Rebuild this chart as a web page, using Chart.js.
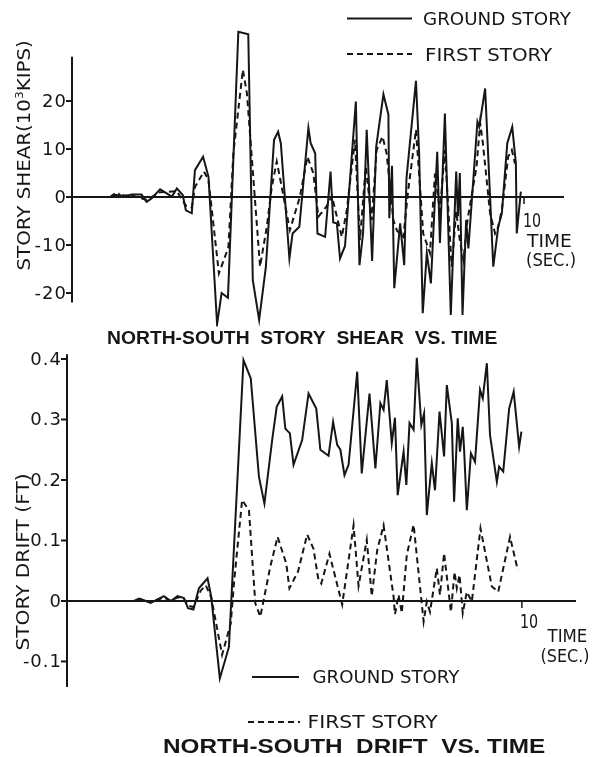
<!DOCTYPE html>
<html><head><meta charset="utf-8">
<script src="https://cdn.jsdelivr.net/npm/chart.js@4/dist/chart.umd.min.js"></script>
<style>
html,body{margin:0;padding:0;background:#fff;}
#wrap{position:relative;width:599px;height:757px;overflow:hidden;background:#fff;}
canvas{position:absolute;left:0;}
.t{position:absolute;white-space:nowrap;font-family:"DejaVu Sans",sans-serif;color:#161616;line-height:1;transform-origin:50% 50%;}
.b{font-family:"Liberation Sans",sans-serif;font-weight:bold;}
</style>
</head><body>
<div id="wrap">
<canvas id="shear" width="599" height="350" style="top:0"></canvas>
<canvas id="drift" width="599" height="407" style="top:350px"></canvas>
</div>
<script>
// ---------- DATA ----------
// Story shear (10^3 kips) vs time (sec)
const shearGroundTime = [0,0.84,0.93,0.99,1.04,1.10,1.32,1.54,1.65,1.76,1.95,2.21,2.32,2.45,2.52,2.65,2.72,2.90,3.02,3.21,3.31,3.45,3.68,3.90,4.00,4.14,4.29,4.47,4.56,4.62,4.81,4.88,5.03,5.23,5.28,5.38,5.43,5.60,5.72,5.78,5.86,5.93,6.04,6.28,6.36,6.44,6.52,6.64,6.73,6.89,7.00,7.02,7.08,7.13,7.26,7.35,7.40,7.61,7.68,7.76,7.85,7.94,8.08,8.14,8.25,8.38,8.50,8.54,8.58,8.64,8.72,8.77,8.97,9.01,9.14,9.32,9.43,9.51,9.63,9.74,9.82,9.84,9.93];
const shearGround = [0,0,0.6,0,0.6,0,0.5,0.5,-1,-0.3,1.6,0.1,1.8,0.4,-2.8,-3.4,5.6,8.4,4.2,-26.5,-20,-21,34.4,33.9,-17.3,-25.6,-14.5,11.9,13.6,11.2,-12.8,-7.6,-6.2,14.4,11.2,9.1,-7.6,-8.3,5.3,-5.3,-5.5,-12.8,-10.2,19.9,-14.2,-7.5,14,-13.3,10.5,21.4,17.2,-4.4,6.5,-19,-5.5,-14.2,3.9,24.2,9.1,-24.2,-11.7,-18,9.4,-9.6,17.4,-24.6,5.3,-4,5,-24.6,-4.8,-10.7,15.7,14.6,22.6,-14.5,-6.2,-3.4,11.2,14.6,7,-7.6,1.1];
const shearFirstTime = [0,0.84,0.93,1.04,1.32,1.65,1.95,2.32,2.52,2.65,2.72,2.92,3.02,3.25,3.46,3.57,3.78,3.87,4.16,4.31,4.42,4.53,4.64,4.82,5.04,5.21,5.34,5.45,5.63,5.75,5.86,5.97,6.08,6.26,6.37,6.50,6.63,6.74,6.87,6.96,7.11,7.19,7.33,7.44,7.61,7.70,7.77,7.92,8.03,8.14,8.25,8.40,8.50,8.58,8.66,8.75,8.95,9.03,9.09,9.25,9.36,9.43,9.51,9.65,9.73,9.80];
const shearFirst = [0,0,0.4,0.4,0.3,-0.6,1.0,1.2,-1.8,-2.2,2.1,5.3,3.5,-15.9,-10.5,9.1,26.5,21.6,-14.5,-6.2,2.1,7.4,2.1,-6.9,0,8.4,4.9,-4.1,-2,0.2,-4.1,-8.3,-2.7,11.9,-9,6.3,-4.8,9.8,12.6,9.1,-4.8,-7,-8.3,1.5,14,2.1,-7.6,-11.7,4.9,-3,9.8,-14.5,-3,-9,-13.1,-4.8,6.3,15.4,11.2,-3.4,-7.6,-6.2,-2.7,8.4,9.8,7];
const shearTicks = [-20,-10,0,10,20];
const shearTickLabels = ['-20','-10','0','10','20'];

// Story drift (ft) vs time (sec)
const driftGroundTime = [0,1.47,1.59,1.84,2.13,2.28,2.43,2.57,2.66,2.78,2.90,3.09,3.17,3.36,3.56,3.88,4.04,4.22,4.34,4.51,4.61,4.73,4.80,4.90,4.98,5.17,5.31,5.48,5.57,5.75,5.85,5.94,6.01,6.10,6.19,6.38,6.48,6.65,6.78,6.89,6.96,7.03,7.14,7.21,7.27,7.40,7.46,7.53,7.62,7.69,7.79,7.85,7.91,8.02,8.09,8.19,8.29,8.35,8.46,8.51,8.59,8.64,8.70,8.73,8.79,8.88,8.97,9.08,9.14,9.23,9.30,9.45,9.50,9.59,9.72,9.82,9.94,9.99];
const driftGround = [0,0,0.004,-0.003,0.008,0,0.008,0.005,-0.012,-0.014,0.021,0.0375,0.007,-0.128,-0.076,0.398,0.368,0.205,0.161,0.266,0.321,0.338,0.285,0.277,0.225,0.266,0.343,0.318,0.25,0.24,0.296,0.258,0.25,0.208,0.225,0.379,0.211,0.343,0.219,0.327,0.316,0.365,0.261,0.303,0.175,0.247,0.192,0.294,0.283,0.402,0.291,0.31,0.142,0.228,0.183,0.313,0.239,0.357,0.294,0.164,0.302,0.247,0.288,0.25,0.15,0.244,0.23,0.349,0.335,0.393,0.274,0.197,0.222,0.214,0.318,0.346,0.255,0.28];
const driftFirstTime = [0,1.47,1.59,1.84,2.13,2.28,2.43,2.57,2.66,2.78,2.94,3.05,3.17,3.41,3.60,3.67,3.85,4.00,4.14,4.25,4.47,4.63,4.82,4.89,5.08,5.28,5.42,5.52,5.59,5.77,6.05,6.30,6.41,6.59,6.70,6.82,6.96,7.18,7.21,7.29,7.36,7.47,7.62,7.84,7.91,7.98,8.13,8.20,8.29,8.44,8.52,8.57,8.63,8.70,8.79,8.90,9.09,9.34,9.48,9.74,9.91];
const driftFirst = [0,0,0.003,-0.002,0.006,0,0.006,0.004,-0.008,-0.01,0.017,0.026,0.006,-0.089,-0.037,0.029,0.167,0.15,-0.004,-0.026,0.057,0.106,0.062,0.021,0.049,0.11,0.086,0.038,0.029,0.078,-0.006,0.125,0.025,0.101,0.008,0.084,0.125,0.007,-0.022,0.01,-0.02,0.076,0.126,-0.034,-0.001,-0.018,0.054,0.01,0.079,-0.018,0.048,0.021,0.043,-0.02,0.015,-0.001,0.12,0.024,0.015,0.106,0.051];
const driftTicks = [-0.1,0,0.1,0.2,0.3,0.4];
const driftTickLabels = ['-0.1','0','0.1','0.2','0.3','0.4'];

const seriesNames = ['GROUND STORY','FIRST STORY'];
// ---------------------------------------------------

const INK = '#161616';
const pts = (xs, ys) => xs.map((t, i) => ({x: t, y: ys[i]}));

const axesPlugin = {
  id: 'axesDraw',
  afterDatasetsDraw(chart, args, o) {
    const ctx = chart.ctx, xs = chart.scales.x, ys = chart.scales.y;
    ctx.save();
    ctx.strokeStyle = INK; ctx.fillStyle = INK; ctx.lineWidth = 2; ctx.setLineDash([]);
    const x0 = xs.getPixelForValue(0), y0 = ys.getPixelForValue(0);
    ctx.beginPath(); ctx.moveTo(x0, ys.getPixelForValue(o.yFrom)); ctx.lineTo(x0, ys.getPixelForValue(o.yTo)); ctx.stroke();
    ctx.beginPath(); ctx.moveTo(x0, y0); ctx.lineTo(xs.getPixelForValue(o.xTo), y0); ctx.stroke();
    ctx.font = o.font; ctx.textAlign = 'right'; ctx.textBaseline = 'middle';
    try { ctx.letterSpacing = '1px'; } catch (e) {}
    o.ticks.forEach((v, i) => {
      const y = ys.getPixelForValue(v);
      ctx.beginPath(); ctx.moveTo(x0 - 6, y); ctx.lineTo(x0, y); ctx.stroke();
      ctx.fillText(o.labels[i], x0 - 5, y + 1);
    });
    const xt = xs.getPixelForValue(10);
    ctx.lineWidth = 1.5; ctx.beginPath(); ctx.moveTo(xt, y0); ctx.lineTo(xt, y0 + 7); ctx.stroke();
    o.legend.forEach(l => {
      ctx.lineWidth = 2; ctx.setLineDash(l.dash);
      ctx.beginPath(); ctx.moveTo(l.x0, l.y); ctx.lineTo(l.x1, l.y); ctx.stroke();
    });
    ctx.restore();
  }
};

function makeChart(id, groundData, firstData, xMax, yMin, yMax, pad, axOpts) {
  return new Chart(document.getElementById(id), {
    type: 'line',
    data: { datasets: [
      { label: seriesNames[0], data: groundData, borderColor: INK, borderWidth: 2, pointRadius: 0, tension: 0, fill: false },
      { label: seriesNames[1], data: firstData, borderColor: INK, borderWidth: 2, borderDash: [6, 4], pointRadius: 0, tension: 0, fill: false }
    ]},
    options: {
      responsive: false, animation: false, devicePixelRatio: 1,
      layout: { padding: pad },
      scales: {
        x: { type: 'linear', min: 0, max: xMax, display: false },
        y: { type: 'linear', min: yMin, max: yMax, display: false }
      },
      plugins: { legend: { display: false }, tooltip: { enabled: false }, title: { display: false }, axesDraw: axOpts }
    },
    plugins: [axesPlugin]
  });
}

makeChart('shear', pts(shearGroundTime, shearGround), pts(shearFirstTime, shearFirst),
  10.885, -27, 35, { left: 72, right: 35, top: 29, bottom: 23.4 },
  { yFrom: -22, yTo: 29.2, xTo: 10.885, ticks: shearTicks, labels: shearTickLabels, font: '18px "DejaVu Sans"',
    legend: [ { x0: 347, x1: 412, y: 18.5, dash: [] }, { x0: 347, x1: 412, y: 54, dash: [6, 4] } ] });

makeChart('drift', pts(driftGroundTime, driftGround), pts(driftFirstTime, driftFirst),
  11.19, -0.145, 0.41, { left: 67, right: 23, top: 2.95, bottom: 68.3 },
  { yFrom: -0.142, yTo: 0.408, xTo: 11.19, ticks: driftTicks, labels: driftTickLabels, font: '18px "DejaVu Sans"',
    legend: [ { x0: 252, x1: 299, y: 327, dash: [] }, { x0: 248, x1: 300, y: 372, dash: [6, 4] } ] });

// ---------- text labels (HTML) ----------
const wrap = document.getElementById('wrap');
function mk(html, size, bold) {
  const d = document.createElement('div');
  d.className = 't' + (bold ? ' b' : '');
  d.style.fontSize = size + 'px';
  d.innerHTML = html;
  wrap.appendChild(d);
  return d;
}
function label(html, x0, x1, yc, size, bold) {
  const d = mk(html, size, bold);
  const w = d.offsetWidth, h = d.offsetHeight;
  const sx = (x1 - x0) / w;
  d.style.left = ((x0 + x1) / 2 - w / 2) + 'px';
  d.style.top = (yc - h / 2) + 'px';
  d.style.transform = 'scaleX(' + sx + ')';
}
function vlabel(html, cx, y0, y1, size) {
  const d = mk(html, size, false);
  const w = d.offsetWidth, h = d.offsetHeight;
  const cy = (y0 + y1) / 2;
  d.style.left = (cx - w / 2) + 'px';
  d.style.top = (cy - h / 2) + 'px';
  d.style.transform = 'rotate(-90deg) scaleX(' + ((y1 - y0) / w) + ')';
}
const sup = '<span style="font-size:0.62em;vertical-align:0.6em">3</span>';
// top chart
label(seriesNames[0], 423, 571, 18.5, 18);
label(seriesNames[1], 425, 552, 55, 18);
vlabel('STORY SHEAR(10' + sup + 'KIPS)', 23, 40, 270, 18);
label('10', 523, 541, 220, 19);
label('TIME', 527, 572, 241, 17);
label('(SEC.)', 526, 576, 260, 17);
label('NORTH-SOUTH&nbsp; STORY&nbsp; SHEAR&nbsp; VS. TIME', 107, 497, 337, 19, true);
// bottom chart
vlabel('STORY DRIFT (FT)', 23, 473, 650, 18);
label('10', 520, 538, 621, 19);
label('TIME', 547, 587, 636, 17);
label('(SEC.)', 540, 589, 656, 17);
label(seriesNames[0], 312, 459, 677, 18);
label(seriesNames[1], 307, 437, 722, 18);
label('NORTH-SOUTH&nbsp; DRIFT&nbsp; VS. TIME', 163, 545, 745, 21, true);
</script>
</body></html>
